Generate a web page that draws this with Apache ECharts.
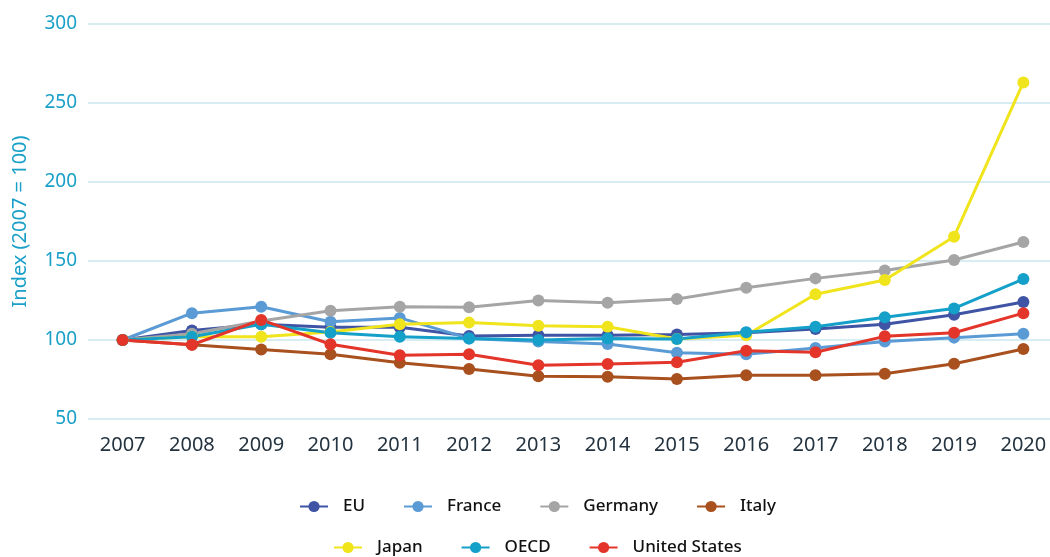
<!DOCTYPE html>
<html><head><meta charset="utf-8">
<script src="https://cdn.jsdelivr.net/npm/echarts@6/dist/echarts.min.js"></script>
<style>html,body{margin:0;padding:0;background:#fff}#c{width:1050px;height:557px}</style>
</head><body><div id="c"></div>
<script>
const years = ['2007','2008','2009','2010','2011','2012','2013','2014','2015','2016','2017','2018','2019','2020'];
const eu      = [100,106,110,108,108,102.5,103,103,103.5,104.6,107,110,116,124];
const france  = [100,117,121,111.6,114,101,99,97.5,92,91,95,99,101.5,104];
const germany = [100,104,112,118.5,121,120.7,125,123.6,126,133,139,144,150.6,162];
const italy   = [100,97,94,91,85.6,81.6,77,76.8,75.3,77.7,77.7,78.7,85,94.3];
const japan   = [100,102,102,105,110,111,109,108.4,100.6,103,129,138,165.4,263];
const oecd    = [100,102,110,104.6,102,101,100,101,100.6,104.9,108.4,114.4,120,138.6];
const us      = [100,97,112.7,97.3,90.3,91,84,84.8,85.9,93.2,92.2,102.3,104.6,117];
const names = ['EU','France','Germany','Italy','Japan','OECD','United States'];
const colors = ['#3f54a4','#5b9bd5','#a5a5a5','#a9501f','#f0e41c','#14a0c8','#e4352a'];
const dataSets = [eu,france,germany,italy,japan,oecd,us];
const font = '"Noto Sans", sans-serif';
const chart = echarts.init(document.getElementById('c'));
const legendCommon = {
  itemWidth: 28, itemHeight: 14, itemGap: 38,
  textStyle: {fontFamily: font, fontSize: 17, fontWeight: 500, color: '#111', padding: [0,0,0,10]}
};
chart.setOption({
  animation: false,
  color: colors,
  grid: {left: 88, width: 970, top: 24, bottom: 138, outerBoundsMode: 'none', containLabel: false},
  legend: [
    Object.assign({data: names.slice(0,4), top: 493, left: 294}, legendCommon),
    Object.assign({data: names.slice(4), top: 534, left: 328}, legendCommon)
  ],
  xAxis: {
    type: 'category', data: years, boundaryGap: true,
    axisLine: {show: false}, axisTick: {show: false},
    axisLabel: {fontFamily: font, fontSize: 20, color: '#243340', margin: 16}
  },
  yAxis: {
    type: 'value', min: 50, max: 300, interval: 50,
    name: 'Index (2007 = 100)', nameLocation: 'middle', nameGap: 58,
    nameTextStyle: {fontFamily: font, fontSize: 20, color: '#1aa0c8'},
    axisLine: {show: false}, axisTick: {show: false},
    axisLabel: {fontFamily: font, fontSize: 19, color: '#1aa0c8', margin: 11},
    splitLine: {lineStyle: {color: '#c8e7f1', width: 1.5}}
  },
  series: dataSets.map((d,i) => ({
    name: names[i], type: 'line', data: d,
    symbol: 'circle', symbolSize: 12,
    lineStyle: {width: 3, color: colors[i]},
    itemStyle: {color: colors[i]}
  }))
});
</script></body></html>
